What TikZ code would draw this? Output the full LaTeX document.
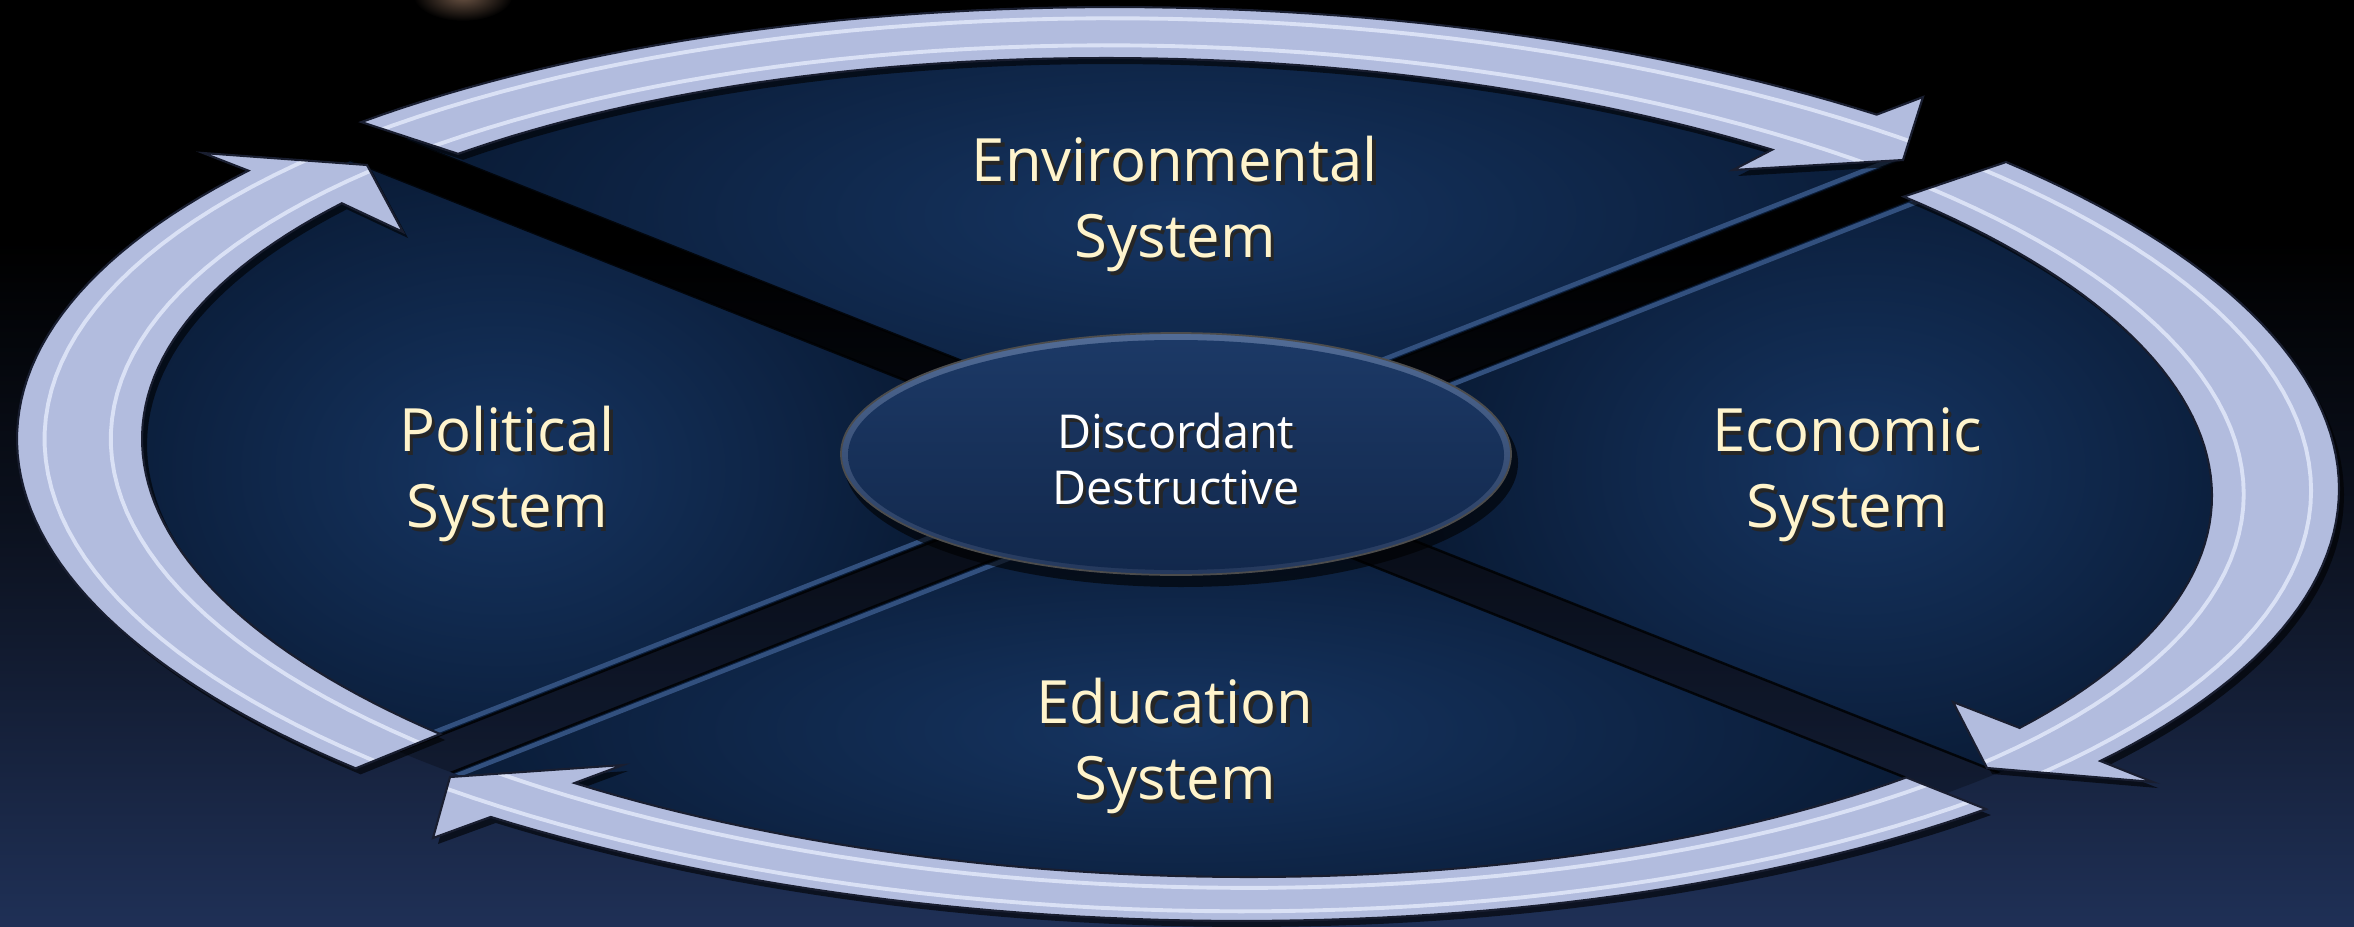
\documentclass[tikz,border=0pt]{standalone}
\usepackage{fontspec}
\setmainfont{Open Sans}
\definecolor{bgbot}{RGB}{31,48,86}
\definecolor{bgmid}{RGB}{12,18,32}
\definecolor{glowc}{RGB}{110,86,70}
\definecolor{arrowfill}{RGB}{178,188,222}
\definecolor{arrowedge}{RGB}{25,30,48}
\definecolor{arrowhl}{RGB}{236,241,255}
\definecolor{secin}{RGB}{22,53,98}
\definecolor{secout}{RGB}{9,26,52}
\definecolor{bandhl}{RGB}{50,80,126}
\definecolor{labelc}{RGB}{255,244,204}
\definecolor{ringA}{RGB}{82,108,150}
\definecolor{ringB}{RGB}{36,56,92}
\definecolor{cinA}{RGB}{28,57,102}
\definecolor{cinB}{RGB}{18,40,76}
\pgfdeclareverticalshading{bgshade}{100bp}{color(0bp)=(bgbot); color(25bp)=(bgbot); color(46bp)=(bgmid); color(62bp)=(black); color(100bp)=(black)}
\newcommand\lbl[2]{\makebox[0pt][l]{\hspace*{0.35mm}\raisebox{-0.4mm}{\textcolor{black!85}{\begin{tabular}{@{}c@{}}#2\end{tabular}}}}\textcolor{#1}{\begin{tabular}{@{}c@{}}#2\end{tabular}}}
% outer edge: x=1178+1161cos t, y=464+25cos t+456.3sin t ; inner edge: x=1177+1035cos t, y=467.5+28.5cos t+408.5sin t  (pixel units, y down)
\def\arrT{plot[domain=-134.7:-53.0,samples=60] ({1178+1161*cos(\x)},{464+25*cos(\x)+456.3*sin(\x)}) -- (1923,97) -- (1903,160) -- (1733,170) -- plot[domain=54.9:134.0,samples=60] ({1177+1035*cos(-\x)},{467.5+28.5*cos(-\x)+408.5*sin(-\x)}) -- cycle}
\def\arrR{plot[domain=-44.5:37.4,samples=60] ({1178+1161*cos(\x)},{464+25*cos(\x)+456.3*sin(\x)}) -- (2153,782) -- (1987,768) -- (1953,702) -- plot[domain=-35.5:45.4,samples=60] ({1177+1035*cos(-\x)},{467.5+28.5*cos(-\x)+408.5*sin(-\x)}) -- cycle}
\def\arrB{plot[domain=45.9:126.3,samples=60] ({1178+1161*cos(\x)},{464+25*cos(\x)+456.3*sin(\x)}) -- (433,838) -- (450,777) -- (623,765) -- plot[domain=-125.6:-45.2,samples=60] ({1177+1035*cos(-\x)},{467.5+28.5*cos(-\x)+408.5*sin(-\x)}) -- cycle}
\def\arrL{plot[domain=135.1:216.8,samples=60] ({1178+1161*cos(\x)},{464+25*cos(\x)+456.3*sin(\x)}) -- (203,153) -- (367,165) -- (403,232) -- plot[domain=-216.2:-135.4,samples=60] ({1177+1035*cos(-\x)},{467.5+28.5*cos(-\x)+408.5*sin(-\x)}) -- cycle}
\def\hlO{plot[domain=0:360,samples=200] ({1177.8+1133.3*cos(\x)},{464.8+25.8*cos(\x)+445.8*sin(\x)})}
\def\hlI{plot[domain=0:360,samples=200] ({1177.25+1066.5*cos(\x)},{466.6+27.6*cos(\x)+420.4*sin(\x)})}
\def\midc{plot[domain=0:360,samples=200] ({1177.5+1098*cos(\x)},{465.75+26.75*cos(\x)+432.4*sin(\x)}) -- cycle}
\begin{document}
\begin{tikzpicture}[x=0.1mm,y=-0.1mm,
  lab/.style={inner sep=0pt,font=\fontsize{17}{21.8}\selectfont},
  ctr/.style={inner sep=0pt,font=\fontsize{13.3}{15.9}\selectfont},
  ashadow/.style={fill=black,opacity=.6,shift={(5,6)}},
  abody/.style={fill=arrowfill},
  aedge/.style={draw=arrowedge,line width=.6pt,line join=miter},
  ahl/.style={draw=arrowhl,line width=1.1pt,opacity=.7},
  bandedge/.style={draw=black,line width=.7pt,opacity=.8}]
\useasboundingbox (0,0) rectangle (2354,926);
% background
\shade[shading=bgshade] (0,0) rectangle (2354,926);
\shade[inner color=glowc, outer color=black] (463,-5) ellipse (50 and 26);
% sectors
\begin{scope}
  \clip \midc;
  \begin{scope}
    \clip (-100,-60.6) -- (1176,446) -- (2450,-54.5) -- (2450,-300) -- (-100,-300) -- cycle;
    \fill[secout] (-100,-300) rectangle (2450,1300);
    \shade[inner color=secin, outer color=secout] (1176,215) ellipse (800 and 270);
  \end{scope}
  \begin{scope}
    \clip (1229.2,467.1) -- (2450,-12.5) -- (2450,951.8) -- cycle;
    \fill[secout] (-100,-300) rectangle (2450,1300);
    \shade[inner color=secin, outer color=secout] (1860,470) ellipse (450 and 340);
  \end{scope}
  \begin{scope}
    \clip (1176,488) -- (2450,993.8) -- (2450,1300) -- (-100,1300) -- (-100,989.2) -- cycle;
    \fill[secout] (-100,-300) rectangle (2450,1300);
    \shade[inner color=secin, outer color=secout] (1176,730) ellipse (800 and 230);
  \end{scope}
  \begin{scope}
    \clip (1122.8,466.9) -- (-100,-18.6) -- (-100,947.2) -- cycle;
    \fill[secout] (-100,-300) rectangle (2450,1300);
    \shade[inner color=secin, outer color=secout] (500,470) ellipse (450 and 340);
  \end{scope}
  % gaps between the sectors
  \fill[black,opacity=.25] (-100,-60.6) -- (2450,951.8) -- (2450,993.8) -- (-100,-18.6) -- cycle;
  \fill[black,opacity=.25] (-100,947.2) -- (2450,-54.5) -- (2450,-12.5) -- (-100,989.2) -- cycle;
  \draw[bandedge] (-100,-60.6) -- (2450,951.8);
  \draw[bandedge] (-100,-18.6) -- (2450,993.8);
  \draw[bandedge] (-100,947.2) -- (2450,-54.5);
  \draw[bandedge] (-100,989.2) -- (2450,-12.5);
  \draw[bandhl,line width=1.3pt] (-100,942) -- (2450,-59.5);
  \draw[bandhl,line width=1.3pt] (-100,994.2) -- (2450,-7.5);
\end{scope}
% central ellipse
\fill[black,opacity=.6] (1181,463) ellipse (337 and 124);
\shade[top color=ringA, bottom color=ringB] (1176,454) ellipse (335 and 121);
\shade[top color=cinA, bottom color=cinB] (1176,455) ellipse (328 and 115);
\draw[black!70,line width=.5pt] (1176,454) ellipse (335 and 121);
% arrows
\fill[ashadow] \arrT;
\fill[ashadow] \arrR;
\fill[ashadow] \arrB;
\fill[ashadow] \arrL;
\fill[abody] \arrT;
\fill[abody] \arrR;
\fill[abody] \arrB;
\fill[abody] \arrL;
\begin{scope}\clip \arrT; \draw[ahl] \hlO; \draw[ahl] \hlI; \end{scope}
\begin{scope}\clip \arrR; \draw[ahl] \hlO; \draw[ahl] \hlI; \end{scope}
\begin{scope}\clip \arrB; \draw[ahl] \hlO; \draw[ahl] \hlI; \end{scope}
\begin{scope}\clip \arrL; \draw[ahl] \hlO; \draw[ahl] \hlI; \end{scope}
\draw[aedge] \arrT;
\draw[aedge] \arrR;
\draw[aedge] \arrB;
\draw[aedge] \arrL;
% labels
\node[lab] (env) at (1175,206) {\lbl{labelc}{Environmental\\System}};
\node[lab] (pol) at (507,476) {\lbl{labelc}{Political\\System}};
\node[lab] (eco) at (1847,476) {\lbl{labelc}{Economic\\System}};
\node[lab] (edu) at (1175,748) {\lbl{labelc}{Education\\System}};
\node[ctr] (dd) at (1176,467) {\lbl{white}{Discordant\\Destructive}};
\end{tikzpicture}
\end{document}
